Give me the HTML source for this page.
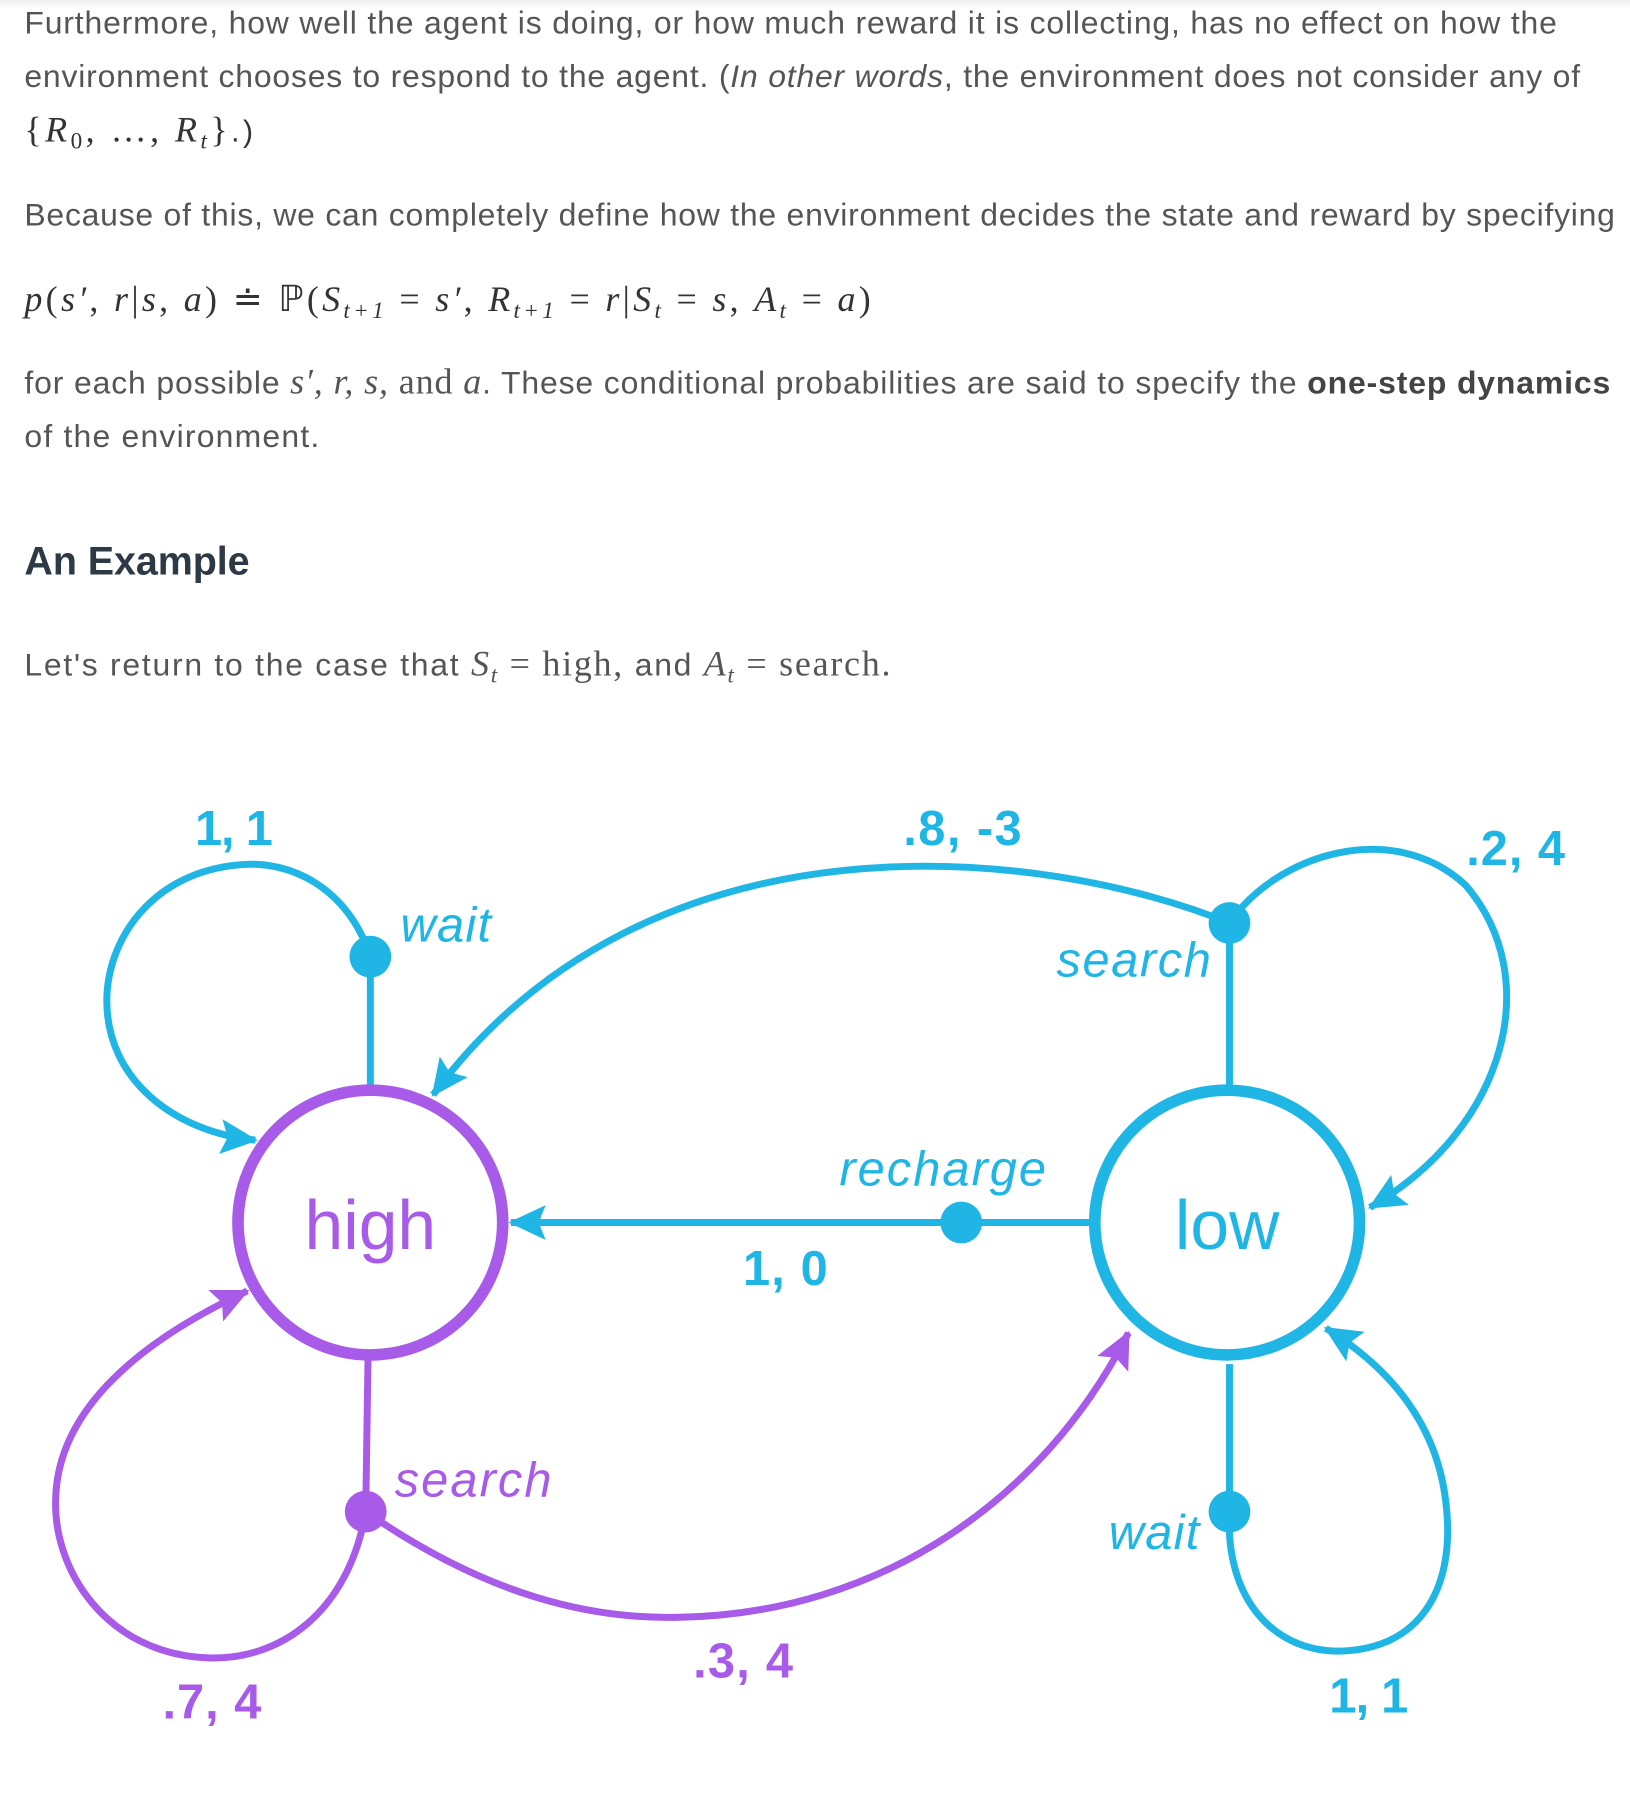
<!DOCTYPE html>
<html><head><meta charset="utf-8"><style>
html,body{margin:0;padding:0;background:#fff;width:1630px;height:1820px;overflow:hidden}
svg{display:block}
.t{font-family:"Liberation Sans",sans-serif;font-size:27.5px;fill:#555}
.m{font-family:"Liberation Serif",serif;font-size:31px;fill:#333}
.mi{font-style:italic}
.b{font-family:"Liberation Sans",sans-serif;font-weight:bold;font-size:42px}
.i{font-family:"Liberation Sans",sans-serif;font-style:italic;font-size:42px}
</style></head><body>
<svg width="1630" height="1820" viewBox="0 0 1404 1567.6" xmlns="http://www.w3.org/2000/svg">
<defs>
<linearGradient id="g" x1="0" y1="0" x2="0" y2="1"><stop offset="0" stop-color="#eee"/><stop offset="1" stop-color="#fff"/></linearGradient>
<marker id="ab" markerUnits="userSpaceOnUse" markerWidth="40" markerHeight="34" refX="30" refY="17" orient="auto"><path d="M0,2 L32,17 L0,32 L6,17 Z" fill="#1fb5e4"/></marker>
<marker id="ap" markerUnits="userSpaceOnUse" markerWidth="40" markerHeight="34" refX="30" refY="17" orient="auto"><path d="M0,2 L32,17 L0,32 L6,17 Z" fill="#a85ae8"/></marker>
</defs>
<rect x="0" y="0" width="1404" height="8" fill="url(#g)"/>
<text class="t" x="21" y="29" textLength="1320">Furthermore, how well the agent is doing, or how much reward it is collecting, has no effect on how the</text>
<text class="t" x="21" y="75" textLength="1340">environment chooses to respond to the agent. (<tspan font-style="italic">In other words</tspan>, the environment does not consider any of</text>
<text class="m" x="21" y="122" textLength="197">{<tspan class="mi">R</tspan><tspan font-size="20" dy="6">0</tspan><tspan dy="-6">, …, </tspan><tspan class="mi">R</tspan><tspan class="mi" font-size="20" dy="6">t</tspan><tspan dy="-6">}</tspan><tspan font-family="Liberation Sans" font-size="26">.)</tspan></text>
<text class="t" x="21" y="194" textLength="1370">Because of this, we can completely define how the environment decides the state and reward by specifying</text>
<text class="m" x="21" y="268" textLength="729"><tspan class="mi">p</tspan>(<tspan class="mi">s′</tspan>, <tspan class="mi">r</tspan>|<tspan class="mi">s</tspan>, <tspan class="mi">a</tspan>) ≐ ℙ(<tspan class="mi">S</tspan><tspan class="mi" font-size="20" dy="6">t+1</tspan><tspan dy="-6"> = </tspan><tspan class="mi">s′</tspan>, <tspan class="mi">R</tspan><tspan class="mi" font-size="20" dy="6">t+1</tspan><tspan dy="-6"> = </tspan><tspan class="mi">r</tspan>|<tspan class="mi">S</tspan><tspan class="mi" font-size="20" dy="6">t</tspan><tspan dy="-6"> = </tspan><tspan class="mi">s</tspan>, <tspan class="mi">A</tspan><tspan class="mi" font-size="20" dy="6">t</tspan><tspan dy="-6"> = </tspan><tspan class="mi">a</tspan>)</text>
<text class="t" x="21" y="339" textLength="1366">for each possible <tspan font-family="Liberation Serif" font-style="italic" font-size="31">s′, r, s,</tspan><tspan font-family="Liberation Serif" font-size="31"> and </tspan><tspan font-family="Liberation Serif" font-style="italic" font-size="31">a</tspan>. These conditional probabilities are said to specify the <tspan font-weight="bold" fill="#444">one-step dynamics</tspan></text>
<text class="t" x="21" y="385" textLength="254">of the environment.</text>
<text x="21" y="495" font-family="Liberation Sans,sans-serif" font-size="34" font-weight="bold" fill="#2d3a45" textLength="194">An Example</text>
<text class="t" x="21" y="582" textLength="746">Let's return to the case that <tspan font-family="Liberation Serif" font-size="31"><tspan font-style="italic">S</tspan><tspan font-style="italic" font-size="20" dy="6">t</tspan><tspan dy="-6"> = high, </tspan></tspan>and <tspan font-family="Liberation Serif" font-size="31"><tspan font-style="italic">A</tspan><tspan font-style="italic" font-size="20" dy="6">t</tspan><tspan dy="-6"> = search.</tspan></tspan></text>

<g fill="none" stroke-width="6">
<line x1="319" y1="938" x2="319" y2="824" stroke="#1fb5e4"/>
<path d="M319,824 C300,765 250,740 205,745 C130,752 92,810 92,862 C92,930 150,975 220,982" stroke="#1fb5e4" marker-end="url(#ab)"/>
<line x1="1059" y1="935" x2="1059" y2="795" stroke="#1fb5e4"/>
<path d="M1059,795 C900,730 560,690 373,943" stroke="#1fb5e4" marker-end="url(#ab)"/>
<path d="M1059,795 C1100,735 1200,705 1262,762 C1330,840 1300,970 1180,1040" stroke="#1fb5e4" marker-end="url(#ab)"/>
<line x1="938" y1="1053" x2="440" y2="1053" stroke="#1fb5e4" marker-end="url(#ab)"/>
<line x1="1059" y1="1175" x2="1059" y2="1302" stroke="#1fb5e4"/>
<path d="M1059,1302 C1055,1380 1100,1425 1158,1422 C1230,1418 1252,1360 1246,1300 C1240,1230 1200,1180 1142,1144" stroke="#1fb5e4" marker-end="url(#ab)"/>
<line x1="317" y1="1170" x2="315" y2="1302" stroke="#a85ae8"/>
<path d="M315,1302 C420,1375 510,1395 585,1393 C760,1390 900,1290 972,1148" stroke="#a85ae8" marker-end="url(#ap)"/>
<path d="M315,1302 C300,1390 240,1430 180,1428 C90,1425 45,1350 48,1290 C50,1220 110,1160 213,1112" stroke="#a85ae8" marker-end="url(#ap)"/>
</g>
<circle cx="319" cy="1053" r="114" fill="none" stroke="#a85ae8" stroke-width="10"/>
<circle cx="1057" cy="1053" r="114" fill="none" stroke="#1fb5e4" stroke-width="10"/>
<circle cx="319" cy="824" r="18" fill="#1fb5e4"/>
<circle cx="1059" cy="795" r="18" fill="#1fb5e4"/>
<circle cx="828" cy="1053" r="18" fill="#1fb5e4"/>
<circle cx="1059" cy="1302" r="18" fill="#1fb5e4"/>
<circle cx="315" cy="1302" r="18" fill="#a85ae8"/>

<text x="319" y="1076" text-anchor="middle" font-family="Liberation Sans,sans-serif" font-size="60" fill="#a85ae8">high</text>
<text x="1057" y="1076" text-anchor="middle" font-family="Liberation Sans,sans-serif" font-size="60" fill="#1fb5e4">low</text>

<g fill="#1fb5e4">
<text class="b" x="168" y="728" textLength="67">1, 1</text>
<text class="b" x="778" y="728" textLength="102">.8, -3</text>
<text class="b" x="1263" y="745" textLength="85">.2, 4</text>
<text class="b" x="640" y="1107" textLength="73">1, 0</text>
<text class="b" x="1145" y="1475" textLength="68">1, 1</text>
<text class="i" x="345" y="811" textLength="78">wait</text>
<text class="i" x="910" y="841" textLength="133">search</text>
<text class="i" x="723" y="1021" textLength="178">recharge</text>
<text class="i" x="955" y="1334" textLength="78">wait</text>
</g>
<g fill="#a85ae8">
<text class="b" x="597" y="1445" textLength="86">.3, 4</text>
<text class="b" x="140" y="1480" textLength="85">.7, 4</text>
<text class="i" x="340" y="1289" textLength="135">search</text>
</g>
</svg>
</body></html>
